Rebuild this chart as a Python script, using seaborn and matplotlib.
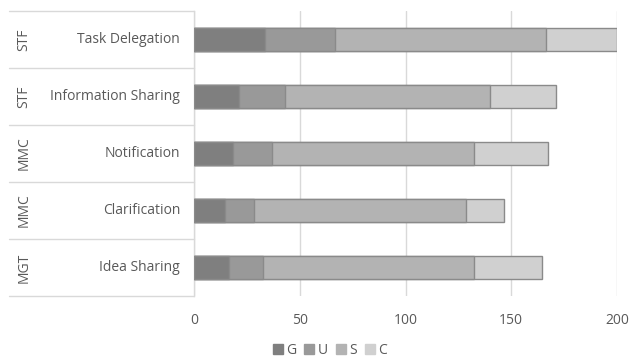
import matplotlib
matplotlib.use("Agg")
import matplotlib.pyplot as plt
import matplotlib.transforms as mtransforms
from matplotlib.patches import Patch
import seaborn as sns
import numpy as np

categories = ["Task Delegation", "Information Sharing", "Notification", "Clarification", "Idea Sharing"]
groups = ["STF", "STF", "MMC", "MMC", "MGT"]
G = [33.5, 21.5, 18.5, 14.5, 16.5]
U = [33, 21.5, 18.5, 14, 16]
S = [100, 97, 95.5, 100, 100]
C = [33.5, 31, 35, 18, 32]
series_names = ["G", "U", "S", "C"]
colors = ["#7f7f7f", "#999999", "#b3b3b3", "#d0d0d0"]
xticks = [0, 50, 100, 150, 200]

sns.set_style("white")
plt.rcParams['font.family'] = ['Open Sans', 'DejaVu Sans']

fig = plt.figure(figsize=(6.3, 3.58), dpi=100)
ax = fig.add_axes([194/630, 1-296/358, 423/630, 285/358])

series = [G, U, S, C]
cum = np.cumsum(np.array(series), axis=0)
edge = "#8a8a8a"
for i in range(3, -1, -1):
    sns.barplot(x=cum[i], y=categories, color=colors[i], orient="h", width=0.4,
                edgecolor=edge, linewidth=1.0, ax=ax, saturation=1, zorder=3)

ax.set_xlim(0, 200)
ax.set_ylim(4.5, -0.5)
ax.set_xticks(xticks)
ax.set_xticklabels([str(t) for t in xticks], fontsize=10, color="#595959")
ax.tick_params(axis="x", length=0, pad=12)
ax.set_yticks([])
ax.set_ylabel("")
ax.set_xlabel("")
ax.grid(axis="x", color="#d9d9d9", linewidth=1, zorder=0)
ax.set_axisbelow(True)
for s in ["top", "right", "bottom"]:
    ax.spines[s].set_visible(False)
ax.spines["left"].set_color("#d9d9d9")
ax.spines["left"].set_linewidth(1)

# multi-level category axis
trans = mtransforms.blended_transform_factory(fig.transFigure, ax.transData)
x_left = 9/630
x_axis = 194/630
for k in range(len(categories) + 1):
    y = k - 0.5
    ax.plot([x_left, x_axis], [y, y], transform=trans, color="#d9d9d9", lw=1,
            clip_on=False)
for k, (cat, grp) in enumerate(zip(categories, groups)):
    ax.text(180/630, k, cat, transform=trans, ha="right", va="center",
            fontsize=10, color="#595959")
    ax.text(24/630, k, grp, transform=trans, ha="center", va="center",
            rotation=90, fontsize=10, color="#595959")

handles = [Patch(facecolor=c, edgecolor=c, label=n) for c, n in zip(colors, series_names)]
fig.legend(handles=handles, loc="center", bbox_to_anchor=(330/630, 1-350/358), ncol=4,
           frameon=False, fontsize=10, handlelength=0.7, handleheight=0.7,
           handletextpad=0.25, columnspacing=0.6, labelcolor="#595959")

fig.savefig("out.png", dpi=100)
